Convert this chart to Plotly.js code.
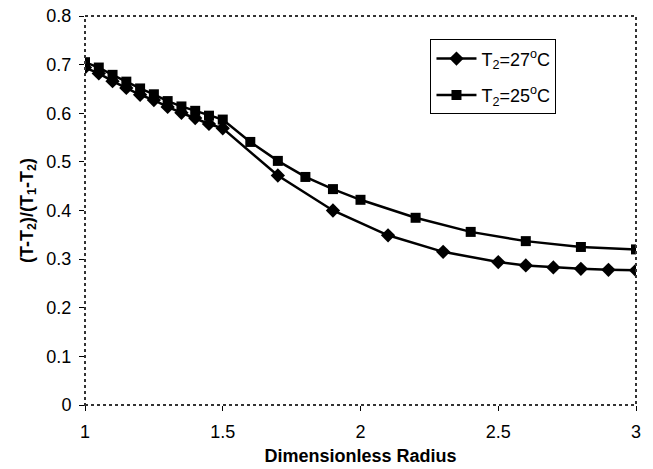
<!DOCTYPE html>
<html><head><meta charset="utf-8">
<script src="https://cdn.plot.ly/plotly-3.0.1.min.js"></script>
<style>body{margin:0;background:#fff}#c{width:653px;height:469px}</style>
</head><body><div id="c"></div>
<script>
const x27 = [1,1.05,1.1,1.15,1.2,1.25,1.3,1.35,1.4,1.45,1.5,1.7,1.9,2.1,2.3,2.5,2.6,2.7,2.8,2.9,3];
const y27 = [0.694,0.682,0.666,0.652,0.638,0.627,0.613,0.601,0.590,0.578,0.569,0.472,0.400,0.349,0.315,0.294,0.287,0.283,0.280,0.278,0.277];
const x25 = [1,1.05,1.1,1.15,1.2,1.25,1.3,1.35,1.4,1.45,1.5,1.6,1.7,1.8,1.9,2.0,2.2,2.4,2.6,2.8,3];
const y25 = [0.705,0.694,0.679,0.665,0.651,0.639,0.625,0.614,0.605,0.595,0.587,0.541,0.502,0.469,0.444,0.422,0.385,0.356,0.337,0.325,0.320];
const name27 = 'T<sub>2</sub>=27<sup>o</sup>C';
const name25 = 'T<sub>2</sub>=25<sup>o</sup>C';
const xticks = [1,1.5,2,2.5,3];
const yticks = [0,0.1,0.2,0.3,0.4,0.5,0.6,0.7,0.8];

const traces = [
  {x:x27,y:y27,name:name27,legendgroup:'a',mode:'lines+markers',line:{color:'#000',width:2.5},marker:{symbol:'diamond',size:11,color:'#000'}},
  {x:x25,y:y25,name:name25,legendgroup:'b',mode:'lines+markers',line:{color:'#000',width:2.5},marker:{symbol:'square',size:10,color:'#000'}}
];
const layout = {
  width:653,height:469,
  margin:{l:85,r:17,t:16,b:64},
  paper_bgcolor:'#fff',plot_bgcolor:'#fff',
  font:{family:'Liberation Sans, Arial, sans-serif',size:16,color:'#000'},
  showlegend:true,
  legend:{x:0.627,y:0.94,xanchor:'left',yanchor:'top',bordercolor:'#000',borderwidth:1,bgcolor:'#fff',font:{size:18},
    traceorder:'grouped',tracegroupgap:10,itemwidth:40},
  xaxis:{range:[1,3],tickvals:xticks,ticktext:xticks.map(String),ticks:'outside',ticklen:5,tickcolor:'#000',showgrid:false,zeroline:false,showline:false,
    ticklabelstandoff:5,tickfont:{size:18},
    title:{text:'<b>Dimensionless Radius</b>',font:{size:18},standoff:8}},
  yaxis:{range:[0,0.8],tickvals:yticks,ticktext:yticks.map(v=>String(v)),ticks:'outside',ticklen:5,tickcolor:'#000',showgrid:false,zeroline:false,showline:false,
    ticklabelstandoff:4,tickfont:{size:18},
    title:{text:'<b>(T-T<sub>2</sub>)/(T<sub>1</sub>-T<sub>2</sub>)</b>',font:{size:18},standoff:8}},
  shapes:[{type:'rect',xref:'paper',yref:'paper',x0:0,x1:1,y0:0,y1:1,line:{color:'#333',width:2,dash:'dot'}}]
};
Plotly.newPlot('c',traces,layout,{staticPlot:true});
</script></body></html>
